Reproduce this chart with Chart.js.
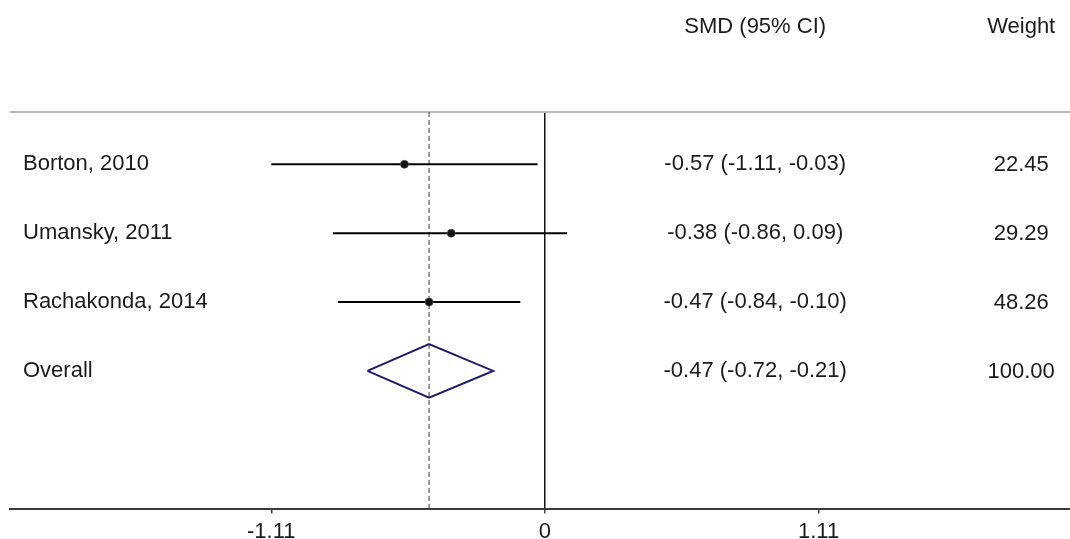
<!DOCTYPE html>
<html>
<head>
<meta charset="utf-8">
<title>Forest plot: SMD (95% CI)</title>
<script src="https://cdn.jsdelivr.net/npm/chart.js@4.4.1/dist/chart.umd.min.js"></script>
<style>
  html, body { margin: 0; padding: 0; background: #ffffff; overflow: hidden; }
  canvas { display: block; }
</style>
</head>
<body>
<canvas id="forest" width="1070" height="550"></canvas>
<script>
// Study-level results
const studies  = ['Borton, 2010', 'Umansky, 2011', 'Rachakonda, 2014'];
const smd      = [-0.57, -0.38, -0.47];
const ciLow    = [-1.11, -0.86, -0.84];
const ciHigh   = [-0.03,  0.09, -0.10];
const weights  = [22.45, 29.29, 48.26];

// Pooled estimate
const overallLabel  = 'Overall';
const overallSmd    = -0.47;
const overallLow    = -0.72;
const overallHigh   = -0.21;
const overallWeight = 100.00;

// Axis ticks
const xTicks = [-1.11, 0, 1.11];

// Column headers
const headerEst = 'SMD (95% CI)';
const headerWt  = 'Weight';

// Row positions (rows run top to bottom)
const studyRows  = studies.map((_, i) => i + 1);
const overallRow = studies.length + 1;
const headerRow  = -1;
const diamondHalf = 0.39;

const FONT = '"Liberation Sans", Arial, sans-serif';
const TEXT = '#1b1b1b';

const fmt = v => v.toFixed(2);

// Confidence-interval whiskers, one line per study
const ciSets = studies.map((s, i) => ({
  label: s + ' CI',
  data: [{ x: ciLow[i], y: studyRows[i] }, { x: ciHigh[i], y: studyRows[i] }],
  showLine: true,
  borderColor: '#000000',
  borderWidth: 2,
  pointRadius: 0,
  order: 3
}));

const datasets = [
  // vertical reference at the pooled estimate
  {
    label: 'pooled',
    data: [{ x: overallSmd, y: 0.24 }, { x: overallSmd, y: 6 }],
    showLine: true,
    borderColor: '#3a3a3a',
    borderWidth: 1,
    borderDash: [5, 3],
    pointRadius: 0,
    order: 4
  },
  ...ciSets,
  // point estimates
  {
    label: 'SMD',
    data: smd.map((v, i) => ({ x: v, y: studyRows[i] })),
    showLine: false,
    pointStyle: 'circle',
    pointRadius: 4,
    pointBackgroundColor: '#111111',
    pointBorderColor: 'rgba(90,90,90,0.6)',
    pointBorderWidth: 1,
    order: 1
  },
  // pooled diamond
  {
    label: 'Overall diamond',
    data: [
      { x: overallLow,  y: overallRow },
      { x: overallSmd,  y: overallRow - diamondHalf },
      { x: overallHigh, y: overallRow },
      { x: overallSmd,  y: overallRow + diamondHalf },
      { x: overallLow,  y: overallRow }
    ],
    showLine: true,
    fill: false,
    borderColor: '#1c1c6b',
    borderWidth: 2,
    pointRadius: 0,
    tension: 0,
    order: 2
  }
];

// Top rule and text columns
const tablePlugin = {
  id: 'forestTable',
  beforeDatasetsDraw(chart) {
    const { ctx, chartArea } = chart;
    ctx.save();
    ctx.strokeStyle = '#b9b9b9';
    ctx.lineWidth = 2;
    ctx.beginPath();
    ctx.moveTo(chartArea.left, chartArea.top);
    ctx.lineTo(chartArea.right, chartArea.top);
    ctx.stroke();
    ctx.restore();
  },
  afterDraw(chart) {
    const { ctx, chartArea, scales } = chart;
    const xs = scales.x, ys = scales.y;
    const labelX = chartArea.left + 13;
    const estX = xs.getPixelForValue(0.853);
    const wtX  = xs.getPixelForValue(1.932);

    ctx.save();
    ctx.fillStyle = TEXT;
    ctx.font = '22px ' + FONT;
    ctx.textBaseline = 'middle';

    // headers
    const hy = ys.getPixelForValue(headerRow);
    ctx.textAlign = 'center';
    ctx.fillText(headerEst, estX, hy);
    ctx.fillText(headerWt, wtX, hy);

    // study rows
    studies.forEach((s, i) => {
      const y = ys.getPixelForValue(studyRows[i]);
      ctx.textAlign = 'left';
      ctx.fillText(s, labelX, y);
      ctx.textAlign = 'center';
      ctx.fillText(fmt(smd[i]) + ' (' + fmt(ciLow[i]) + ', ' + fmt(ciHigh[i]) + ')', estX, y);
      ctx.fillText(fmt(weights[i]), wtX, y + 1);
    });

    // pooled row
    const oy = ys.getPixelForValue(overallRow);
    ctx.textAlign = 'left';
    ctx.fillText(overallLabel, labelX, oy);
    ctx.textAlign = 'center';
    ctx.fillText(fmt(overallSmd) + ' (' + fmt(overallLow) + ', ' + fmt(overallHigh) + ')', estX, oy);
    ctx.fillText(fmt(overallWeight), wtX, oy + 1);
    ctx.restore();
  }
};

new Chart(document.getElementById('forest'), {
  type: 'scatter',
  data: { datasets },
  options: {
    responsive: false,
    animation: false,
    layout: { autoPadding: false, padding: { top: 112, left: 10, right: 0, bottom: 0 } },
    plugins: {
      legend: { display: false },
      tooltip: { enabled: false },
      title: { display: false }
    },
    scales: {
      x: {
        type: 'linear',
        position: 'bottom',
        min: -2.17,
        max: 2.13,
        afterBuildTicks(scale) {
          scale.ticks = xTicks.map(v => ({ value: v }));
        },
        ticks: {
          autoSkip: false,
          color: TEXT,
          padding: 5,
          font: { family: FONT, size: 22 },
          callback: v => (v === 0 ? '0' : fmt(v))
        },
        grid: {
          drawOnChartArea: true,
          color: c => (c.tick && c.tick.value === 0 ? '#111111' : 'rgba(0,0,0,0)'),
          lineWidth: 1.5,
          tickColor: '#444444',
          tickLength: 5
        },
        border: { display: true, color: '#3a3a3a', width: 2 }
      },
      y: {
        type: 'linear',
        display: false,
        reverse: true,
        min: 0.24,
        max: 6
      }
    }
  },
  plugins: [tablePlugin]
});
</script>
</body>
</html>
